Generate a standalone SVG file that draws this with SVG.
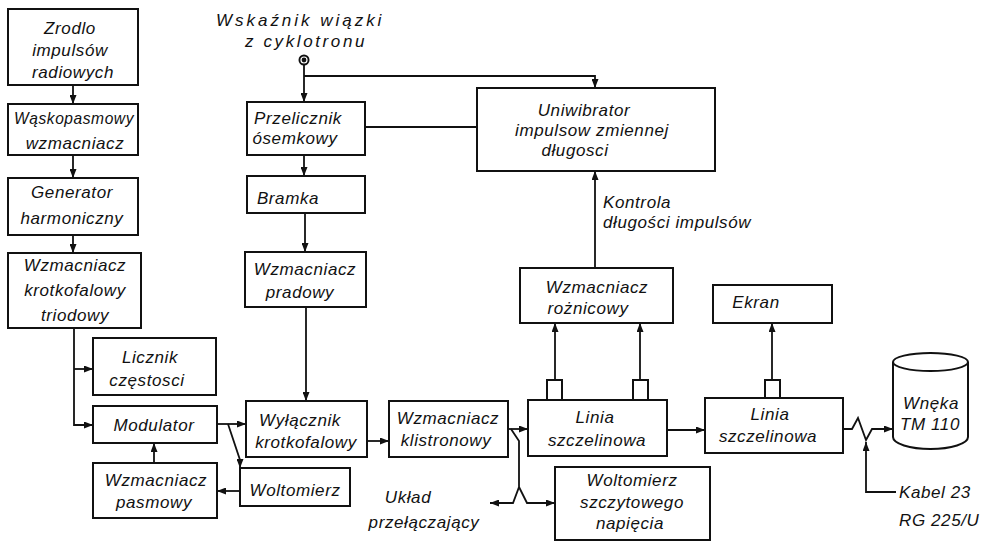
<svg xmlns="http://www.w3.org/2000/svg" width="994" height="547" viewBox="0 0 994 547">
<style>
.b{fill:#fff;stroke:#111;stroke-width:2}
.c{fill:none;stroke:#111;stroke-width:1.8}
.a{marker-end:url(#ar)}
text{font-family:"Liberation Sans",Arial,sans-serif;font-style:italic;font-size:17px;fill:#111;text-anchor:middle;letter-spacing:0.6px}
.l{text-anchor:start}
</style>
<defs>
<marker id="ar" markerUnits="userSpaceOnUse" markerWidth="9" markerHeight="7" refX="9" refY="3.5" orient="auto">
<path d="M0,0 L9,3.5 L0,7 z" fill="#111"/>
</marker>
</defs>
<rect width="994" height="547" fill="#fff"/>
<g id="connectors">
<path class="c a" d="M73,85 V104"/>
<path class="c a" d="M73,155 V178"/>
<path class="c a" d="M73,235 V253"/>
<path class="c a" d="M74,328 V425 H93"/>
<path class="c a" d="M74,369 H93"/>
<path class="c a" d="M154,463 V443"/>
<path class="c a" d="M217,424 H246"/>
<path class="c a" d="M228,424 L240,460 V468"/>
<path class="c a" d="M240,491 H217"/>
<path class="c a" d="M304,65 V102"/>
<path class="c a" d="M304,76 H595 V88"/>
<path class="c" d="M365,127 H477"/>
<path class="c a" d="M304,155 V176"/>
<path class="c a" d="M305,213 V252"/>
<path class="c a" d="M306,307 V401"/>
<path class="c a" d="M367,441 H389"/>
<path class="c a" d="M508,429 H528"/>
<path class="c a" d="M511,429 L519,441 V487 L513,503 H490"/>
<path class="c a" d="M519,487 L527,503 H555"/>
<path class="c a" d="M595,268 V171"/>
<path class="c a" d="M555,380 V323"/>
<path class="c a" d="M640,380 V323"/>
<path class="c a" d="M667,430 H705"/>
<path class="c a" d="M772,380 V323"/>
<path class="c a" d="M843,429 H852 L858,418 L866,440 L872,429 H893"/>
<path class="c a" d="M896,492 H866 V442"/>
</g>
<g id="src-beam">
<circle cx="304" cy="60" r="5.5" fill="#111"/>
<circle cx="304" cy="60" r="3" fill="none" stroke="#fff" stroke-width="1.2"/>
<text x="299" y="26" textLength="166" lengthAdjust="spacing">Wskaźnik  wiązki</text>
<text x="305" y="47" textLength="120" lengthAdjust="spacing">z cyklotronu</text>
</g>
<g id="zrodlo"><rect class="b" x="8" y="9" width="130" height="76"/>
<text x="70" y="34">Zrodlo</text><text x="70" y="56">impulsów</text><text x="73" y="78">radiowych</text></g>
<g id="wasko"><rect class="b" x="8" y="104" width="130" height="51"/>
<text x="74" y="124" textLength="120" lengthAdjust="spacingAndGlyphs">Wąskopasmowy</text><text x="75" y="149">wzmacniacz</text></g>
<g id="gen"><rect class="b" x="8" y="178" width="130" height="57"/>
<text x="72" y="198">Generator</text><text x="72" y="224">harmoniczny</text></g>
<g id="wzmkr"><rect class="b" x="8" y="253" width="133" height="75"/>
<text x="75" y="271">Wzmacniacz</text><text x="75" y="296">krotkofalowy</text><text x="75" y="321">triodowy</text></g>
<g id="licznik"><rect class="b" x="93" y="338" width="123" height="57"/>
<text x="150" y="363">Licznik</text><text x="147" y="386">częstosci</text></g>
<g id="modulator"><rect class="b" x="93" y="406" width="124" height="37"/>
<text x="154" y="431">Modulator</text></g>
<g id="pasmowy"><rect class="b" x="93" y="463" width="124" height="55"/>
<text x="156" y="486">Wzmacniacz</text><text x="154" y="508">pasmowy</text></g>
<g id="woltomierz"><rect class="b" x="240" y="468" width="110" height="38"/>
<text x="295" y="496">Woltomierz</text></g>
<g id="przelicznik"><rect class="b" x="247" y="102" width="118" height="53"/>
<text x="298" y="124">Przelicznik</text><text x="295" y="144">ósemkowy</text></g>
<g id="bramka"><rect class="b" x="247" y="176" width="118" height="37"/>
<text x="288" y="204">Bramka</text></g>
<g id="pradowy"><rect class="b" x="245" y="252" width="121" height="55"/>
<text x="305" y="275">Wzmacniacz</text><text x="300" y="298">pradowy</text></g>
<g id="wylacznik"><rect class="b" x="246" y="401" width="121" height="56"/>
<text x="300" y="426">Wyłącznik</text><text x="306" y="448">krotkofalowy</text></g>
<g id="klistronowy"><rect class="b" x="389" y="401" width="119" height="56"/>
<text x="448" y="424">Wzmacniacz</text><text x="446" y="446">klistronowy</text></g>
<g id="uklad"><text x="408" y="503">Układ</text><text x="424" y="528">przełączający</text></g>
<g id="uniwibrator"><rect class="b" x="477" y="88" width="238" height="83"/>
<text x="584" y="116">Uniwibrator</text><text x="592" y="136">impulsow  zmiennej</text><text x="575" y="156">długosci</text></g>
<g id="kontrola"><text class="l" x="603" y="208">Kontrola</text><text class="l" x="603" y="228">długości impulsów</text></g>
<g id="roznicowy"><rect class="b" x="520" y="268" width="153" height="55"/>
<text x="597" y="293">Wzmacniacz</text><text x="588" y="314">rożnicowy</text></g>
<g id="linia1"><rect class="b" x="547" y="380" width="15" height="20"/><rect class="b" x="633" y="380" width="15" height="20"/>
<rect class="b" x="528" y="400" width="139" height="56"/>
<text x="595" y="423">Linia</text><text x="597" y="446">szczelinowa</text></g>
<g id="woltszcz"><rect class="b" x="555" y="467" width="155" height="73"/>
<text x="632" y="486">Woltomierz</text><text x="632" y="508">szczytowego</text><text x="630" y="529">napięcia</text></g>
<g id="ekran"><rect class="b" x="713" y="285" width="119" height="38"/>
<text x="756" y="308">Ekran</text></g>
<g id="linia2"><rect class="b" x="765" y="380" width="15" height="18"/>
<rect class="b" x="705" y="398" width="138" height="55"/>
<text x="770" y="420">Linia</text><text x="768" y="442">szczelinowa</text></g>
<g id="wneka"><path class="b" d="M893,362 V437 A37.5,12 0 0,0 968,437 V362 A37.5,9 0 0,0 893,362 A37.5,9 0 0,0 968,362"/>
<text x="931" y="409">Wnęka</text><text x="930" y="430">TM 110</text></g>
<g id="kabel"><text class="l" x="899" y="498">Kabel 23</text><text class="l" x="899" y="526">RG 225/U</text></g>
</svg>
